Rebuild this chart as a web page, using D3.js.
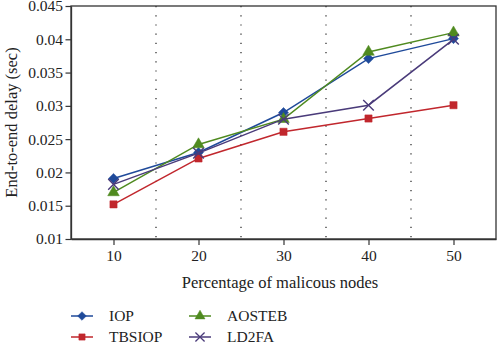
<!DOCTYPE html>
<html>
<head>
<meta charset="utf-8">
<script src="https://cdn.jsdelivr.net/npm/d3@7"></script>
<style>
  body { margin: 0; background: #fff; }
  text { font-family: "Liberation Serif", "DejaVu Serif", serif; fill: #222; }
</style>
</head>
<body>
<div id="chart"></div>
<script>
// data
const nodes = [10, 20, 30, 40, 50];
const iop    = [0.0191, 0.0230, 0.0290, 0.0371, 0.0401];
const tbsiop = [0.0152, 0.0221, 0.0261, 0.0281, 0.0301];
const aosteb = [0.0170, 0.0242, 0.0280, 0.0381, 0.0410];
const ld2fa  = [0.0182, 0.0229, 0.0280, 0.0301, 0.0400];
const yTicks = [0.01, 0.015, 0.02, 0.025, 0.03, 0.035, 0.04, 0.045];
const dividers = [15, 25, 35, 45];

const series = [
    {name: "IOP", values: iop, color: "#1f4a9a", symbol: d3.symbolDiamond2, size: 64},
    {name: "TBSIOP", values: tbsiop, color: "#c1272d", symbol: d3.symbolSquare, size: 52},
    {name: "AOSTEB", values: aosteb, color: "#4f8a1f", symbol: d3.symbolTriangle, size: 58},
    {name: "LD2FA", values: ld2fa, color: "#4a3b7a", symbol: d3.symbolX, size: 75}
];

const width = 497, height = 343;
const margin = {top: 6, right: 1, bottom: 104, left: 71};
const innerW = width - margin.left - margin.right;
const innerH = height - margin.top - margin.bottom;

const svg = d3.select("#chart").append("svg")
    .attr("width", width)
    .attr("height", height);

const g = svg.append("g")
    .attr("transform", `translate(${margin.left},${margin.top})`);

const x = d3.scaleLinear().domain([5, 55]).range([0, innerW]);
const y = d3.scaleLinear().domain([0.01, 0.045]).range([innerH, 0]);

// dotted dividers
g.selectAll("line.div").data(dividers).enter().append("line")
    .attr("class", "div")
    .attr("x1", d => x(d)).attr("x2", d => x(d))
    .attr("y1", 0).attr("y2", innerH)
    .attr("stroke", "#222").attr("stroke-width", 1.2)
    .attr("stroke-dasharray", "1.2,8");

// frame
g.append("rect")
    .attr("x", 0).attr("y", 0)
    .attr("width", innerW).attr("height", innerH)
    .attr("fill", "none").attr("stroke", "#333").attr("stroke-width", 1.3);

const xAxis = g.append("g")
    .attr("transform", `translate(0,${innerH})`)
    .call(d3.axisBottom(x).tickValues(nodes).tickSize(6).tickPadding(5).tickSizeOuter(0));
const yAxis = g.append("g")
    .call(d3.axisLeft(y).tickValues(yTicks).tickFormat(d => +d.toFixed(3) + "").tickSize(5.5).tickPadding(2.5).tickSizeOuter(0));

[xAxis, yAxis].forEach(a => {
    a.select(".domain").attr("stroke", "#333").attr("stroke-width", 1.3);
    a.selectAll(".tick line").attr("stroke", "#333").attr("stroke-width", 1.2);
    a.selectAll(".tick text").attr("font-size", 15.5).attr("fill", "#222")
        .style("font-family", "'Liberation Serif', serif");
});

// axis titles
svg.append("text")
    .attr("x", 280)
    .attr("y", 288)
    .attr("text-anchor", "middle")
    .attr("font-size", 16.5)
    .text("Percentage of malicous nodes");

svg.append("text")
    .attr("transform", `translate(17,${margin.top + innerH / 2}) rotate(-90)`)
    .attr("text-anchor", "middle")
    .attr("font-size", 16.5)
    .text("End-to-end delay (sec)");

// lines and markers
const line = d3.line()
    .x((d, i) => x(nodes[i]))
    .y(d => y(d));

series.forEach(s => {
    g.append("path")
        .datum(s.values)
        .attr("fill", "none")
        .attr("stroke", s.color)
        .attr("stroke-width", 1.5)
        .attr("d", line);

    g.selectAll(null).data(s.values).enter().append("path")
        .attr("transform", (d, i) => `translate(${x(nodes[i])},${y(d)})`)
        .attr("d", d3.symbol().type(s.symbol).size(s.size))
        .attr("fill", s.symbol === d3.symbolX ? "none" : s.color)
        .attr("stroke", s.color)
        .attr("stroke-width", s.symbol === d3.symbolX ? 1.4 : 0.5);
});

// legend
const legend = svg.append("g");
const legendPos = [
    {x: 71, y: 316}, {x: 71, y: 337},
    {x: 189, y: 316}, {x: 189, y: 337}
];
series.forEach((s, i) => {
    const p = legendPos[i];
    const item = legend.append("g").attr("transform", `translate(${p.x},${p.y})`);
    item.append("line")
        .attr("x1", 0).attr("x2", 22)
        .attr("stroke", s.color).attr("stroke-width", 1.5);
    item.append("path")
        .attr("transform", "translate(11,0)")
        .attr("d", d3.symbol().type(s.symbol).size(s.size * 0.75))
        .attr("fill", s.symbol === d3.symbolX ? "none" : s.color)
        .attr("stroke", s.color)
        .attr("stroke-width", s.symbol === d3.symbolX ? 1.3 : 0.5);
    item.append("text")
        .attr("x", 38)
        .attr("dy", "0.33em")
        .attr("font-size", 15.5)
        .text(s.name);
});
</script>
</body>
</html>
